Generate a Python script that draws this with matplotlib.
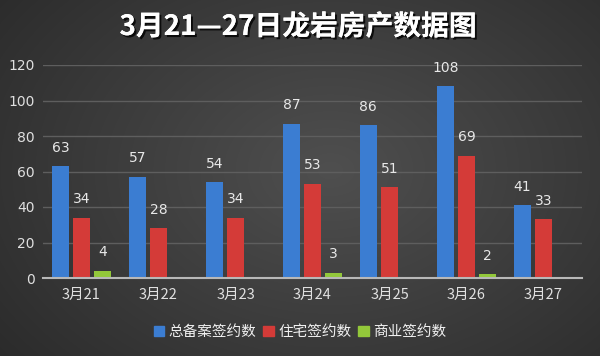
import numpy as np
import matplotlib
matplotlib.use("Agg")
import matplotlib.pyplot as plt
import matplotlib.patheffects as pe
from matplotlib.patches import Patch

plt.rcParams['font.family'] = ['Noto Sans CJK SC', 'DejaVu Sans']

title = "3月21—27日龙岩房产数据图"
categories = ["3月21", "3月22", "3月23", "3月24", "3月25", "3月26", "3月27"]
series_names = ["总备案签约数", "住宅签约数", "商业签约数"]
total = [63, 57, 54, 87, 86, 108, 41]
residential = [34, 28, 34, 53, 51, 69, 33]
commercial = [4, 0, 0, 3, 0, 2, 0]

colors = ["#3b7dd2", "#d43b38", "#93c83a"]

fig = plt.figure(figsize=(6, 3.56), dpi=100)

# radial gradient background
bg = fig.add_axes([0, 0, 1, 1], zorder=-10)
yy, xx = np.mgrid[0:356, 0:600]
r = np.sqrt(((xx - 330) / 420.0) ** 2 + ((yy - 170) / 300.0) ** 2)
val = np.clip(0.31 - 0.14 * r, 0.16, 0.31)
bg.imshow(np.dstack([val, val, val]), aspect='auto', extent=[0, 1, 0, 1])
bg.set_axis_off()

ax = fig.add_axes([43 / 600, 1 - 278 / 356, (582 - 43) / 600, (278 - 65) / 356])
ax.set_facecolor('none')
x = np.arange(len(categories))
w = 0.225
off = 0.275
data = [total, residential, commercial]
for i, (vals, c) in enumerate(zip(data, colors)):
    xs = x + (i - 1) * off
    ax.bar(xs, vals, width=w, color=c, zorder=3)
    for xi, v in zip(xs, vals):
        if v > 0:
            ax.text(xi, v + 6.5, str(v), ha='center', va='bottom', color='#e8e8e8',
                    fontsize=10, zorder=4, family=['DejaVu Sans'])

ax.set_xlim(-0.5, len(categories) - 0.5)
ax.set_ylim(0, 120)
ax.set_yticks(range(0, 121, 20))
ax.set_xticks(x)
ax.set_xticklabels(categories)
ax.tick_params(axis='both', length=0, colors='#e0e0e0', labelsize=10.5)
ax.tick_params(axis='x', pad=7)
ax.tick_params(axis='y', pad=6)
for lbl in ax.get_yticklabels():
    lbl.set_family(['DejaVu Sans'])
    lbl.set_fontsize(10)
ax.grid(axis='y', color='#5e5e5e', linewidth=1, zorder=0)
for s in ['top', 'right', 'left']:
    ax.spines[s].set_visible(False)
ax.spines['bottom'].set_color('#b8b8b8')
ax.spines['bottom'].set_linewidth(1.5)
ax.spines['bottom'].set_zorder(5)

handles = [Patch(color=c, label=n) for c, n in zip(colors, series_names)]
leg = fig.legend(handles=handles, loc='center', bbox_to_anchor=(0.5, 1 - 332 / 356),
                 ncol=3, frameon=False, fontsize=10.5, handlelength=0.7, handleheight=0.7,
                 handletextpad=0.3, columnspacing=0.5, labelcolor='#f0f0f0')

fig.text(298 / 600, 1 - 27 / 356, title, ha='center', va='center', color='white',
         fontsize=20, fontweight='bold',
         path_effects=[pe.withSimplePatchShadow(offset=(1.5, -1.5), shadow_rgbFace='black', alpha=0.8), pe.Normal()])

fig.savefig("out.png", dpi=100)
